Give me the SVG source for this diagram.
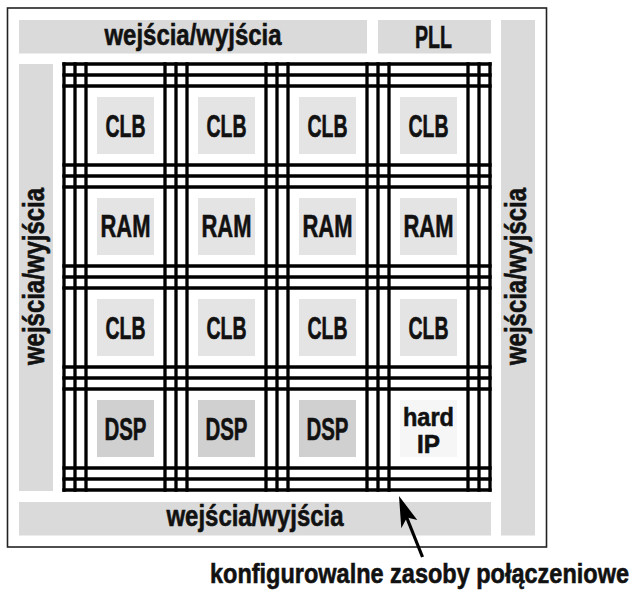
<svg xmlns="http://www.w3.org/2000/svg" width="634" height="593" viewBox="0 0 634 593">
<style>
.t{font-family:"Liberation Sans Narrow","Liberation Sans",Arial,sans-serif;font-weight:bold;fill:#111;stroke:#111;stroke-width:0.6;text-anchor:middle}
.lbl{font-size:30.5px}
.io{fill:#dadada}
.blk{fill:#e4e4e4}
.dsp{fill:#d0d0d0}
.hip{fill:#f6f6f6}
.g{stroke:#000;stroke-width:3.3;fill:none;stroke-linecap:square}
</style>
<rect x="7.5" y="8" width="539" height="539" fill="#fff" stroke="#222" stroke-width="1.6"/>
<g id="io-top"><rect class="io" x="19" y="20" width="348" height="33.5"/><text class="t" x="193" y="44.5" font-size="29.5" textLength="177" lengthAdjust="spacingAndGlyphs">wejścia/wyjścia</text></g>
<g id="pll"><rect class="io" x="378" y="20" width="113" height="33.5"/><text class="t lbl" x="433.5" y="48.3" textLength="37" lengthAdjust="spacingAndGlyphs">PLL</text></g>
<g id="io-left"><rect class="io" x="19" y="64" width="34" height="427"/><text class="t" transform="translate(43.7,276.5) rotate(-90)" x="0" y="0" font-size="29.5" textLength="177" lengthAdjust="spacingAndGlyphs">wejścia/wyjścia</text></g>
<g id="io-right"><rect class="io" x="501" y="20" width="34" height="515.5"/><text class="t" transform="translate(525.7,276.5) rotate(-90)" x="0" y="0" font-size="29.5" textLength="177" lengthAdjust="spacingAndGlyphs">wejścia/wyjścia</text></g>
<g id="io-bottom"><rect class="io" x="19" y="502" width="472" height="33.5"/><text class="t" x="255" y="525.5" font-size="29.5" textLength="177" lengthAdjust="spacingAndGlyphs">wejścia/wyjścia</text></g>
<g id="connectors">
<g id="routing" class="g">
<path d="M64 64V490M75 64V490M86 64V490M165 64V490M176 64V490M187 64V490M266 64V490M277 64V490M288 64V490M367 64V490M378 64V490M389 64V490M468 64V490M479 64V490M490 64V490"/>
<path d="M64 64H490M64 75H490M64 86H490M64 165H490M64 176H490M64 187H490M64 266H490M64 277H490M64 288H490M64 367H490M64 378H490M64 389H490M64 468H490M64 479H490M64 490H490"/>
</g>
<g id="arrow">
<line x1="406.5" y1="517" x2="422.5" y2="557" stroke="#000" stroke-width="3.2"/>
<polygon points="399,496 417.3,520 407,517.5 401.3,528.3" fill="#000"/>
</g>
</g>
<g id="clb-1-1"><rect class="blk" x="97" y="97" width="57" height="57"/><text class="t lbl" x="125.5" y="136.5" textLength="40" lengthAdjust="spacingAndGlyphs">CLB</text></g>
<g id="clb-1-2"><rect class="blk" x="198" y="97" width="57" height="57"/><text class="t lbl" x="226.5" y="136.5" textLength="40" lengthAdjust="spacingAndGlyphs">CLB</text></g>
<g id="clb-1-3"><rect class="blk" x="299" y="97" width="57" height="57"/><text class="t lbl" x="327.5" y="136.5" textLength="40" lengthAdjust="spacingAndGlyphs">CLB</text></g>
<g id="clb-1-4"><rect class="blk" x="400" y="97" width="57" height="57"/><text class="t lbl" x="428.5" y="136.5" textLength="40" lengthAdjust="spacingAndGlyphs">CLB</text></g>
<g id="ram-1"><rect class="blk" x="97" y="198" width="57" height="57"/><text class="t lbl" x="125.5" y="237" textLength="50" lengthAdjust="spacingAndGlyphs">RAM</text></g>
<g id="ram-2"><rect class="blk" x="198" y="198" width="57" height="57"/><text class="t lbl" x="226.5" y="237" textLength="50" lengthAdjust="spacingAndGlyphs">RAM</text></g>
<g id="ram-3"><rect class="blk" x="299" y="198" width="57" height="57"/><text class="t lbl" x="327.5" y="237" textLength="50" lengthAdjust="spacingAndGlyphs">RAM</text></g>
<g id="ram-4"><rect class="blk" x="400" y="198" width="57" height="57"/><text class="t lbl" x="428.5" y="237" textLength="50" lengthAdjust="spacingAndGlyphs">RAM</text></g>
<g id="clb-3-1"><rect class="blk" x="97" y="299" width="57" height="57"/><text class="t lbl" x="125.5" y="338.5" textLength="40" lengthAdjust="spacingAndGlyphs">CLB</text></g>
<g id="clb-3-2"><rect class="blk" x="198" y="299" width="57" height="57"/><text class="t lbl" x="226.5" y="338.5" textLength="40" lengthAdjust="spacingAndGlyphs">CLB</text></g>
<g id="clb-3-3"><rect class="blk" x="299" y="299" width="57" height="57"/><text class="t lbl" x="327.5" y="338.5" textLength="40" lengthAdjust="spacingAndGlyphs">CLB</text></g>
<g id="clb-3-4"><rect class="blk" x="400" y="299" width="57" height="57"/><text class="t lbl" x="428.5" y="338.5" textLength="40" lengthAdjust="spacingAndGlyphs">CLB</text></g>
<g id="dsp-1"><rect class="dsp" x="97" y="400" width="57" height="57"/><text class="t lbl" x="125.5" y="440" textLength="42" lengthAdjust="spacingAndGlyphs">DSP</text></g>
<g id="dsp-2"><rect class="dsp" x="198" y="400" width="57" height="57"/><text class="t lbl" x="226.5" y="440" textLength="42" lengthAdjust="spacingAndGlyphs">DSP</text></g>
<g id="dsp-3"><rect class="dsp" x="299" y="400" width="57" height="57"/><text class="t lbl" x="327.5" y="440" textLength="42" lengthAdjust="spacingAndGlyphs">DSP</text></g>
<g id="hard-ip"><rect class="hip" x="400" y="400" width="57" height="57"/><text class="t" x="428.5" y="425.5" font-size="26.5" textLength="51" lengthAdjust="spacingAndGlyphs">hard</text><text class="t" x="428.5" y="453.3" font-size="26.5" textLength="23" lengthAdjust="spacingAndGlyphs">IP</text></g>
<g id="label"><text class="t" x="419.5" y="583" font-size="28.5" textLength="419" lengthAdjust="spacingAndGlyphs">konfigurowalne zasoby połączeniowe</text></g>
</svg>
